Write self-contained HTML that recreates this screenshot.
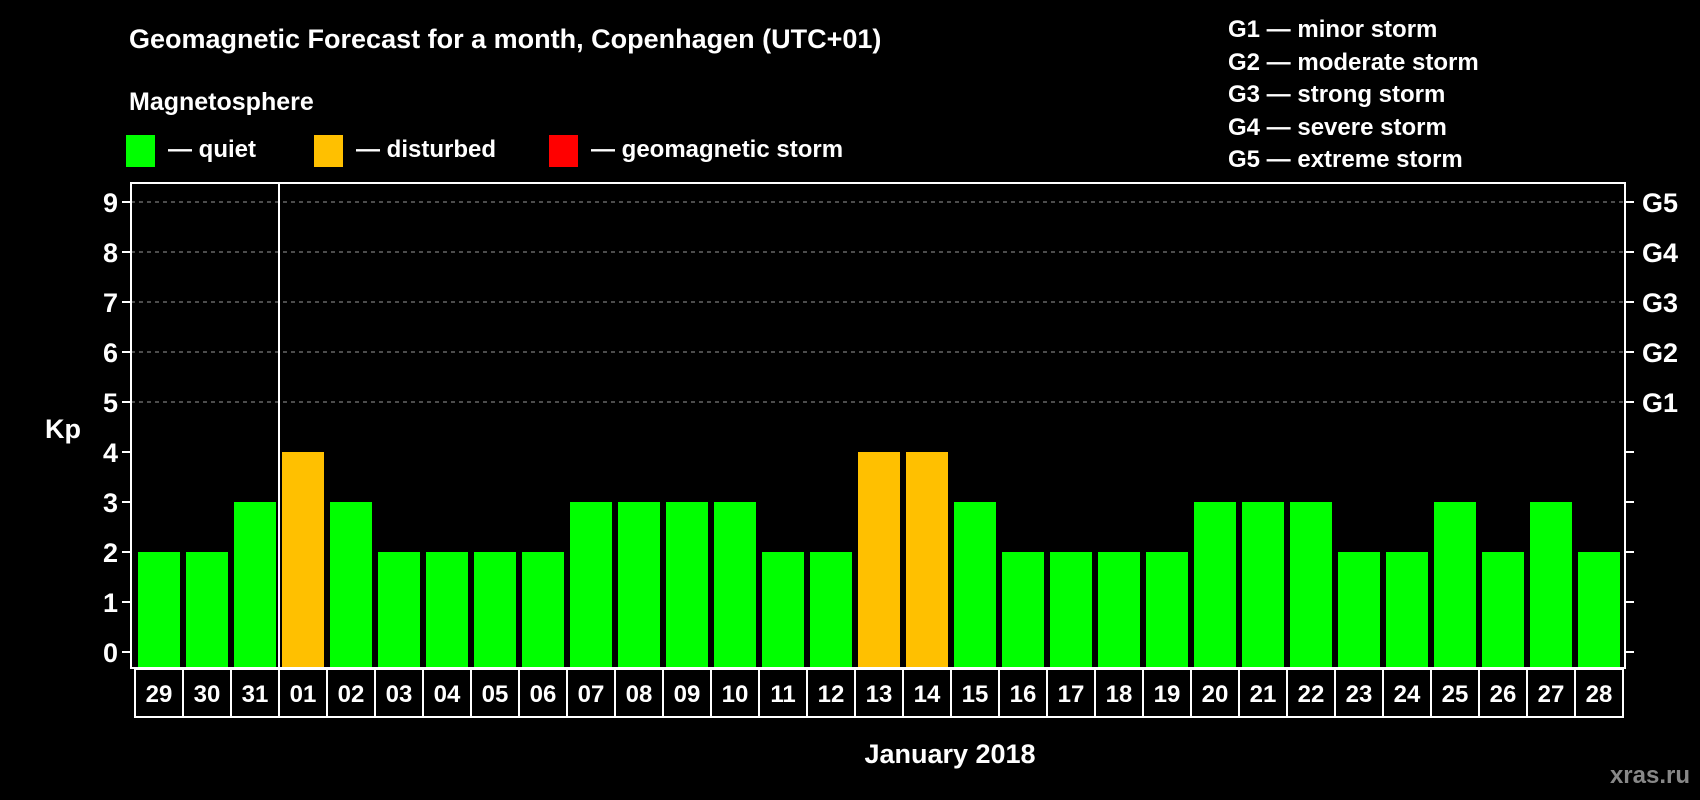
<!DOCTYPE html>
<html><head><meta charset="utf-8"><style>
body{margin:0;background:#000;width:1700px;height:800px;overflow:hidden}
svg{display:block}
text{font-family:"Liberation Sans",Arial,sans-serif;font-weight:bold;fill:#fff}
</style></head><body>
<svg id="chart" width="1700" height="800">
<text x="129" y="48" font-size="27">Geomagnetic Forecast for a month, Copenhagen (UTC+01)</text>
<text x="129" y="110" font-size="25">Magnetosphere</text>
<g><rect x="126" y="135" width="29" height="32" fill="#00ff00"/><text x="168" y="157" font-size="24">— quiet</text></g>
<g><rect x="314" y="135" width="29" height="32" fill="#ffc000"/><text x="356" y="157" font-size="24">— disturbed</text></g>
<g><rect x="549" y="135" width="29" height="32" fill="#ff0000"/><text x="591" y="157" font-size="24">— geomagnetic storm</text></g>
<g font-size="24">
<text x="1228" y="37" font-size="24">G1 — minor storm</text>
<text x="1228" y="70" font-size="24">G2 — moderate storm</text>
<text x="1228" y="102" font-size="24">G3 — strong storm</text>
<text x="1228" y="135" font-size="24">G4 — severe storm</text>
<text x="1228" y="167" font-size="24">G5 — extreme storm</text>
</g>
<text x="63" y="438" font-size="27" text-anchor="middle">Kp</text>
<text x="950" y="763" font-size="27" text-anchor="middle">January 2018</text>
<text x="1690" y="783" font-size="24" text-anchor="end" style="fill:#888">xras.ru</text>
<g id="grid"></g><g id="bars"></g><g id="axes"></g><g id="cells"></g>
</svg>
<script>
const days=["29","30","31","01","02","03","04","05","06","07","08","09","10","11","12","13","14","15","16","17","18","19","20","21","22","23","24","25","26","27","28"];
const kp=[2,2,3,4,3,2,2,2,2,3,3,3,3,2,2,4,4,3,2,2,2,2,3,3,3,2,2,3,2,3,2];
const yTicks=[0,1,2,3,4,5,6,7,8,9];
const gLabels=["G1","G2","G3","G4","G5"];
const NS="http://www.w3.org/2000/svg";
const L=131,R=1625,T=183,B=668,X0=138,STEP=48,BW=42;
const y=v=>652-50*v;
const x=i=>X0+STEP*i;
function mk(tag,attrs,parent){const e=document.createElementNS(NS,tag);for(const k in attrs)e.setAttribute(k,attrs[k]);document.getElementById(parent).appendChild(e);return e;}
yTicks.forEach(t=>{
 if(t>=5){const g=mk('line',{x1:L,x2:R,y1:y(t),y2:y(t),stroke:'#999','stroke-dasharray':'4,4','stroke-width':1},'grid');
 
 }
 const a=mk('line',{x1:L-9,x2:L,y1:y(t),y2:y(t),stroke:'#fff','stroke-width':2},'axes');
 
 
 const b=mk('line',{x1:R,x2:R+9,y1:y(t),y2:y(t),stroke:'#fff','stroke-width':2},'axes');
 
 
 const tl=mk('text',{x:118,y:y(t)+10,'font-size':27,'text-anchor':'end'},'axes');tl.textContent=t;
 
 
});
gLabels.forEach((g,i)=>{const tl=mk('text',{x:1642,y:y(5+i)+10,'font-size':27},'axes');tl.textContent=g;
 
 });
kp.forEach((v,i)=>{
 const c=v>=5?'#ff0000':(v>=4?'#ffc000':'#00ff00');
 const r=mk('rect',{x:x(i),y:y(v),width:BW,height:B-y(v),fill:c},'bars');
 
 
});
const fr=mk('rect',{x:L,y:T,width:R-L,height:B-T,fill:'none',stroke:'#fff','stroke-width':2},'axes');


const ml=mk('line',{x1:x(3)-3,x2:x(3)-3,y1:T,y2:B,stroke:'#fff','stroke-width':2},'axes');


days.forEach((d,i)=>{
 const cx=135+STEP*i;
 const c=mk('rect',{x:cx,y:669,width:STEP,height:48,fill:'none',stroke:'#fff','stroke-width':2},'cells');
 
 
 const t=mk('text',{x:cx+STEP/2,y:702,'font-size':24,'text-anchor':'middle'},'cells');t.textContent=d;
 
 
});
</script>
</body></html>
